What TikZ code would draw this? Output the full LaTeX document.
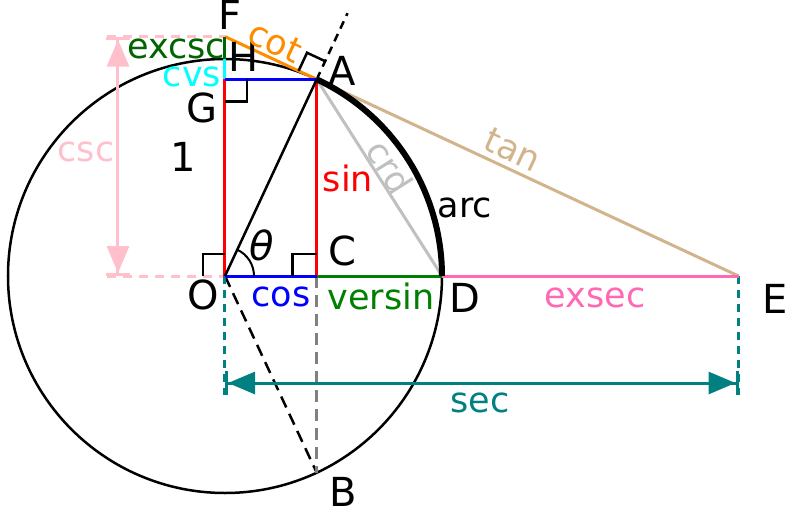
\documentclass[tikz,border=0pt]{standalone}
\usepackage{fontspec}
\setmainfont{DejaVu Sans}
\usepackage{xcolor}
\usepackage{tikz}
\usetikzlibrary{arrows.meta,calc}

\definecolor{cotcol}{RGB}{255,140,0}
\definecolor{tancol}{RGB}{210,180,140}
\definecolor{crdcol}{RGB}{192,192,192}
\definecolor{versincol}{RGB}{0,128,0}
\definecolor{excsccol}{RGB}{0,100,0}
\definecolor{exseccol}{RGB}{255,105,180}
\definecolor{csccol}{RGB}{255,192,203}
\definecolor{seccol}{RGB}{0,128,128}
\definecolor{cvscol}{RGB}{0,255,255}

\begin{document}
\begin{tikzpicture}[x=1pt,y=1pt,
    seg/.style={line width=3pt},
    lbl/.style={inner sep=0pt,font=\fontsize{35}{38}\selectfont},
    pt/.style={inner sep=0pt,font=\fontsize{40}{44}\selectfont},
    rangle/.style={line width=2.5pt},
    dimtip/.style={line width=3pt,
      arrows={{Bar[width=24pt]Triangle[length=27pt,width=22pt]}-{Triangle[length=27pt,width=22pt]Bar[width=24pt]}}},
    helper/.style={line width=3pt,dash pattern=on 9pt off 7pt}]
    \useasboundingbox (-225,-236) rectangle (575,276);

    % 点
    \coordinate (O) at (0,0);
    \coordinate (A) at (65:217);
    \coordinate (B) at (-65:217);
    \coordinate (C) at (A|-O);
    \coordinate (D) at (217,0);
    \coordinate (E) at (513.5,0);
    \coordinate (F) at (0,239.4);
    \coordinate (G) at (O|-A);
    \coordinate (H) at (0,217);

    % 圆和弧
    \draw[line width=2.5pt] (O) circle[radius=217pt];
    \draw[line width=2.5pt,dash pattern=on 12pt off 7pt] (O) -- (B);
    \draw[line width=2.5pt,gray,dash pattern=on 12pt off 7pt] (C) -- (B);
    \draw[line width=2.5pt,dash pattern=on 8pt off 6pt] (A) -- (65:290);

    % 辅助线
    \draw[helper,csccol] (-118,0) -- (O);
    \draw[helper,csccol] (-118,239.4) -- (F);
    \draw[helper,seccol,dash pattern=on 8pt off 6pt] (O) -- (0,-119);
    \draw[helper,seccol,dash pattern=on 8pt off 6pt] (E) -- (513.5,-119);
    \draw[dimtip,csccol] (-107,0) -- (-107,239.4);
    \draw[dimtip,seccol] (0,-107) -- (513.5,-107);

    % 线段
    \draw[seg,crdcol] (A) -- (D);
    \draw[seg,tancol] (A) -- (E);
    \draw[seg,exseccol] (D) -- (E);
    \draw[seg,versincol] (C) -- (D);
    \draw[seg,cotcol] (F) -- (A);
    \draw[seg,excsccol] (H) -- (F);
    \draw[seg,cvscol] (G) -- (H);
    \draw[seg,red] (G) -- (O);
    \draw[seg,red] (A) -- (C);
    \draw[seg,blue] (G) -- (A);
    \draw[seg,blue] (O) -- (C);
    \draw[line width=2.5pt] (O) -- (A);
    \draw[line width=6pt] (D) arc[start angle=0,end angle=65,radius=217pt];
    \draw[line width=2pt] (29,0) arc[start angle=0,end angle=65,radius=29pt];

    % 直角
    \draw[rangle] (-22,0) -- (-22,22) -- (0,22);
    \draw[rangle] ($(C)+(-24,0)$) -- ++(0,22) -- ($(C)+(0,22)$);
    \draw[rangle] ($(G)+(0,-22)$) -- ++(22,0) -- ($(G)+(22,0)$);
    \draw[rangle] ($(A)+(65:20)$) -- ++(155:20) -- ($(A)+(155:20)$);

    % 标签
    \node[pt] (lF) at (5,261) {F};
    \node[pt] (lH) at (19,219) {H};
    \node[pt] (lG) at (-23,168) {G};
    \node[pt] (lA) at (117,205) {A};
    \node[pt] (lC) at (117,25) {C};
    \node[pt] (lO) at (-22,-19) {O};
    \node[pt] (lD) at (240,-22) {D};
    \node[pt] (lE) at (550,-23) {E};
    \node[pt] (lB) at (118,-216) {B};
    \node[pt] (lone) at (-42,119) {1};
    \node[pt] (ltheta) at (37,31) {\itshape θ};
    \node[lbl] (larc) at (240,68) {arc};
    \node[lbl,cotcol,rotate=-25] (lcot) at (50,234) {cot};
    \node[lbl,excsccol] (lexcsc) at (-49,227) {excsc};
    \node[lbl,cvscol] (lcvs) at (-33,199) {cvs};
    \node[lbl,csccol] (lcsc) at (-139,124) {csc};
    \node[lbl,red] (lsin) at (123,98) {sin};
    \node[lbl,crdcol,rotate=-57.5] (lcrd) at (165,109) {crd};
    \node[lbl,tancol,rotate=-25] (ltan) at (288,126) {tan};
    \node[lbl,blue] (lcos) at (56,-21) {cos};
    \node[lbl,versincol] (lversin) at (156,-20) {versin};
    \node[lbl,exseccol] (lexsec) at (370,-22) {exsec};
    \node[lbl,seccol] (lsec) at (255,-127) {sec};
\end{tikzpicture}
\end{document}
